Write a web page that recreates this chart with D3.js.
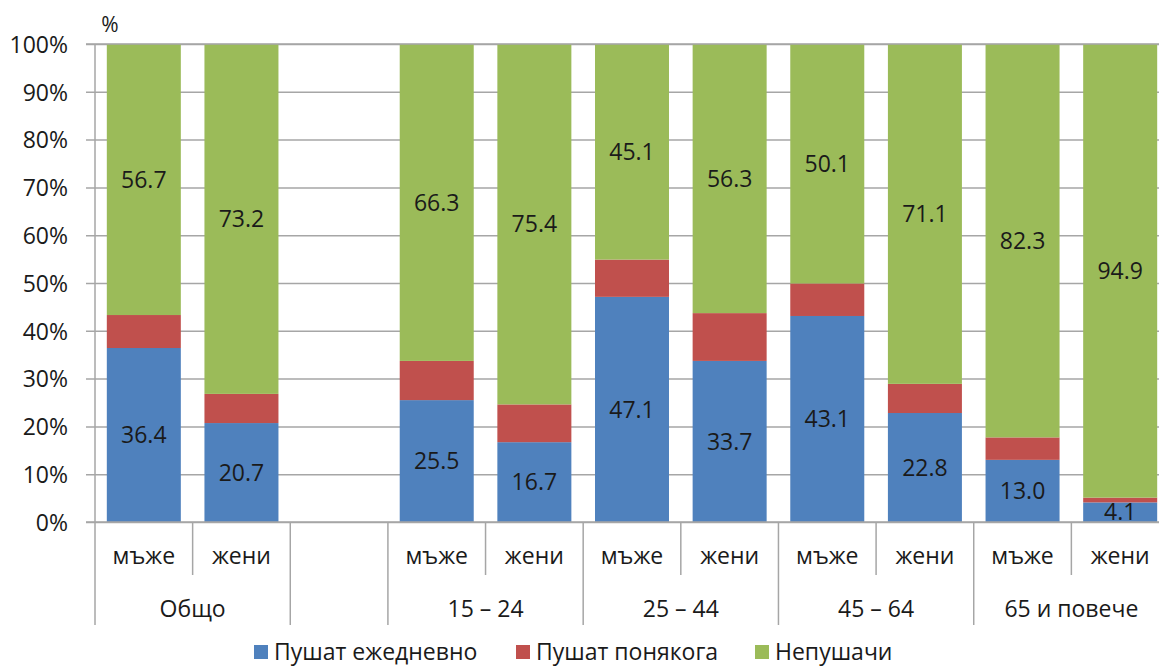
<!DOCTYPE html>
<html>
<head>
<meta charset="utf-8">
<script src="https://cdn.jsdelivr.net/npm/d3@7"></script>
<style>
  html, body { margin: 0; padding: 0; background: #fff; }
  svg { display: block; font-family: "Open Sans", sans-serif; }
</style>
</head>
<body>
<svg id="chart" width="1159" height="668"></svg>
<script>
// Slots along the category axis (one empty slot separates "Общо" from the age groups)
const slotKeys = ["t_m", "t_f", "gap", "a1_m", "a1_f", "a2_m", "a2_f", "a3_m", "a3_f", "a4_m", "a4_f"];
const sexLabels = ["мъже", "жени", "", "мъже", "жени", "мъже", "жени", "мъже", "жени", "мъже", "жени"];
const groupLabels = ["Общо", "", "15 – 24", "25 – 44", "45 – 64", "65 и повече"];
const groupSpans = [2, 1, 2, 2, 2, 2];

// Shares (%) per slot; the empty slot carries null
const daily = [36.4, 20.7, null, 25.5, 16.7, 47.1, 33.7, 43.1, 22.8, 13.0, 4.1];
const sometimes = [6.9, 6.1, null, 8.2, 7.9, 7.8, 10.0, 6.8, 6.1, 4.7, 1.0];
const nonSmokers = [56.7, 73.2, null, 66.3, 75.4, 45.1, 56.3, 50.1, 71.1, 82.3, 94.9];

const seriesNames = ["Пушат ежедневно", "Пушат понякога", "Непушачи"];
const seriesColors = ["#4F81BD", "#C0504D", "#9BBB59"];
const seriesLabelled = [true, false, true];
const yTicks = [0, 10, 20, 30, 40, 50, 60, 70, 80, 90, 100];

const margin = { left: 95, top: 44, right: 1169, bottom: 522 };
const svg = d3.select("#chart");
const textColor = "#1a1a1a";
const gridColor = "#a6a6a6";
const fontSize = "23px";

const x = d3.scaleBand().domain(slotKeys).range([margin.left, margin.right]).paddingInner(0.242).paddingOuter(0.121);
const y = d3.scaleLinear().domain([0, 100]).range([margin.bottom, margin.top]);

// Rows for stacking
const rows = slotKeys.map((k, i) => ({ key: k, s0: daily[i], s1: sometimes[i], s2: nonSmokers[i] }))
  .filter(r => r.s0 !== null);
const stack = d3.stack().keys(["s0", "s1", "s2"]);
const layers = stack(rows);

// Gridlines and y axis ticks
const yAxis = d3.axisLeft(y).tickValues(yTicks).tickFormat(d => d + "%").tickSizeOuter(0);
const gy = svg.append("g").attr("transform", `translate(${margin.left},0)`).call(yAxis);
gy.select(".domain").remove();
gy.selectAll(".tick line")
  .attr("x1", -9).attr("x2", margin.right - margin.left)
  .attr("stroke", gridColor).attr("stroke-width", 1.5);
gy.selectAll(".tick text")
  .attr("x", -27).attr("dy", "0.36em")
  .attr("fill", textColor).style("font-size", fontSize).style("font-family", "Open Sans, sans-serif");

// Stacked bars
svg.append("g").selectAll("g").data(layers).join("g")
  .attr("fill", (d, i) => seriesColors[i])
  .selectAll("rect").data(d => d).join("rect")
  .attr("x", d => x(d.data.key))
  .attr("width", x.bandwidth())
  .attr("y", d => y(d[1]))
  .attr("height", d => y(d[0]) - y(d[1]));

// Value labels centred in the labelled segments
layers.forEach((layer, i) => {
  if (!seriesLabelled[i]) return;
  svg.append("g").selectAll("text").data(layer).join("text")
    .attr("x", d => x(d.data.key) + x.bandwidth() / 2)
    .attr("y", d => y((d[0] + d[1]) / 2))
    .attr("dy", "0.36em")
    .attr("text-anchor", "middle")
    .attr("fill", textColor)
    .style("font-size", fontSize)
    .text(d => (d[1] - d[0]).toFixed(1));
});

// Top gridline drawn over the bars
svg.append("line")
  .attr("x1", margin.left - 9).attr("x2", margin.right)
  .attr("y1", y(100)).attr("y2", y(100))
  .attr("stroke", gridColor).attr("stroke-width", 1.5);

// Category axis: baseline, vertical axis line and separators
const axisG = svg.append("g").attr("stroke", gridColor).attr("stroke-width", 1.5);
axisG.append("line").attr("x1", margin.left - 9).attr("x2", margin.right)
  .attr("y1", y(0)).attr("y2", y(0));
const step = x.step();
const slotStart = i => margin.left + i * step;
const sexBottom = 575, groupBottom = 625;
axisG.append("line").attr("x1", margin.left).attr("x2", margin.left)
  .attr("y1", y(100)).attr("y2", groupBottom);

let idx = 0;
const groupBounds = [];
groupSpans.forEach(span => { groupBounds.push([idx, idx + span]); idx += span; });
groupBounds.forEach(([a, b]) => {
  axisG.append("line").attr("x1", slotStart(b)).attr("x2", slotStart(b))
    .attr("y1", y(0)).attr("y2", groupBottom);
  for (let k = a + 1; k < b; k++) {
    axisG.append("line").attr("x1", slotStart(k)).attr("x2", slotStart(k))
      .attr("y1", y(0)).attr("y2", sexBottom);
  }
});

// Sex labels
svg.append("g").selectAll("text").data(slotKeys).join("text")
  .attr("x", d => x(d) + x.bandwidth() / 2)
  .attr("y", 556).attr("dy", "0.36em")
  .attr("text-anchor", "middle").attr("fill", textColor)
  .style("font-size", fontSize)
  .text((d, i) => sexLabels[i]);

// Group labels
svg.append("g").selectAll("text").data(groupBounds).join("text")
  .attr("x", d => (slotStart(d[0]) + slotStart(d[1])) / 2)
  .attr("y", 609).attr("dy", "0.36em")
  .attr("text-anchor", "middle").attr("fill", textColor)
  .style("font-size", fontSize)
  .text((d, i) => groupLabels[i]);

// Unit label
svg.append("text").attr("x", 110).attr("y", 24).attr("dy", "0.36em")
  .attr("text-anchor", "middle").attr("fill", textColor)
  .style("font-size", "21px").text("%");

// Legend
const legendX = [254, 516, 755];
const lg = svg.append("g").selectAll("g").data(seriesNames).join("g")
  .attr("transform", (d, i) => `translate(${legendX[i]},652)`);
lg.append("rect").attr("x", 0).attr("y", -7).attr("width", 14).attr("height", 14)
  .attr("fill", (d, i) => seriesColors[i]);
lg.append("text").attr("x", 20).attr("dy", "0.36em").attr("fill", textColor)
  .style("font-size", fontSize).text(d => d);
</script>
</body>
</html>
